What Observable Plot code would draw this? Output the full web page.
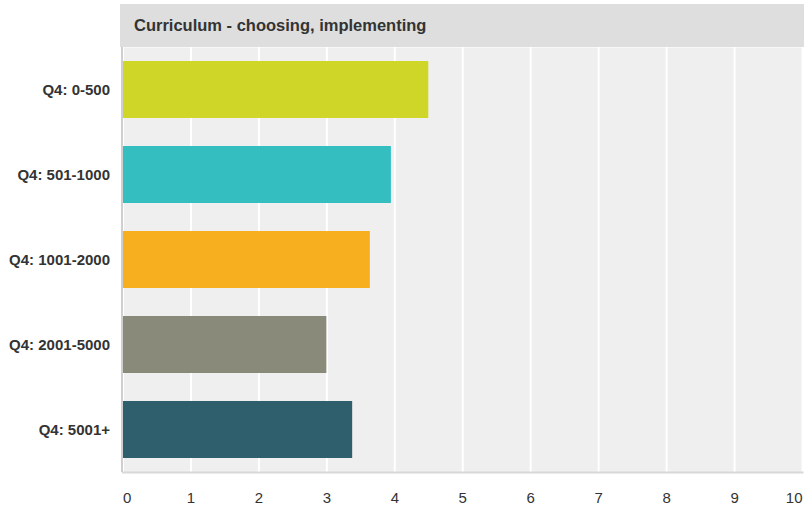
<!DOCTYPE html>
<html>
<head>
<meta charset="utf-8">
<script src="https://cdn.jsdelivr.net/npm/d3@7"></script>
<script src="https://cdn.jsdelivr.net/npm/@observablehq/plot@0.6"></script>
<style>
  html, body { margin: 0; padding: 0; background: #fff; }
  #wrap { width: 804px; height: 512px; overflow: hidden; font-family: "Liberation Sans", Arial, sans-serif; }
  #title { margin: 4px 0 0 120px; height: 43px; background: #dedede; color: #333; font-weight: bold; font-size: 16.5px; line-height: 43px; padding-left: 14px; box-sizing: border-box; }
  svg { display: block; }
</style>
</head>
<body>
<div id="wrap">
  <div id="title">Curriculum - choosing, implementing</div>
</div>
<script>
const categories = ["Q4: 0-500", "Q4: 501-1000", "Q4: 1001-2000", "Q4: 2001-5000", "Q4: 5001+"];
const values = [4.5, 3.95, 3.64, 3.0, 3.38];
const colors = ["#d0d628", "#34bec0", "#f7af1f", "#8a8a7a", "#2f5f6c"];
const xTicks = [0, 1, 2, 3, 4, 5, 6, 7, 8, 9, 10];

const data = categories.map((c, i) => ({ category: c, value: values[i] }));

const chart = Plot.plot({
  width: 804,
  height: 465,
  marginTop: 0,
  marginLeft: 122.5,
  marginRight: 2,
  marginBottom: 40,
  style: { fontFamily: "Liberation Sans, Arial, sans-serif", fontSize: "15px", color: "#333", background: "transparent" },
  x: { domain: [0, 10], ticks: xTicks },
  y: { domain: categories, paddingInner: 0.33, paddingOuter: 0.165 },
  color: { domain: categories, range: colors },
  marks: [
    Plot.frame({ fill: "#efefef", stroke: null }),
    Plot.gridX(xTicks, { stroke: "#fff", strokeOpacity: 1, strokeWidth: 2 }),
    Plot.barX(data, { x: "value", y: "category", fill: "category" }),
    Plot.ruleX([0], { stroke: "#cfcfcf", strokeWidth: 2, dx: -1 }),
    Plot.frame({ anchor: "bottom", stroke: "#d8d8d8", strokeWidth: 2 }),
    Plot.axisY({ tickSize: 0, tickPadding: 13, fontWeight: "bold", fontSize: 15, label: null, fill: "#333" }),
    Plot.axisX(xTicks.slice(1, -1), { tickSize: 0, tickPadding: 20, fontSize: 15, label: null, fill: "#333" }),
    Plot.axisX([0], { tickSize: 0, tickPadding: 20, fontSize: 15, label: null, textAnchor: "start", fill: "#333" }),
    Plot.axisX([10], { tickSize: 0, tickPadding: 20, fontSize: 15, label: null, textAnchor: "end", fill: "#333" })
  ]
});
document.getElementById("wrap").appendChild(chart);
</script>
</body>
</html>
